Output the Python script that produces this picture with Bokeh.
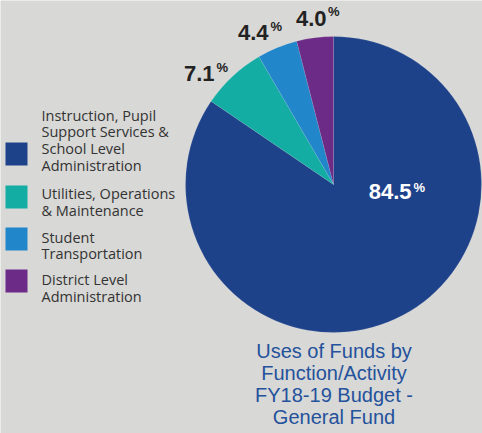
import math
from bokeh.plotting import figure
from bokeh.models import Range1d, ColumnDataSource
from bokeh.embed import file_html
from bokeh.resources import INLINE
from bokeh.core.properties import value

# ---- data ----
categories = [
    "Instruction, Pupil\nSupport Services &\nSchool Level\nAdministration",
    "Utilities, Operations\n& Maintenance",
    "Student\nTransportation",
    "District Level\nAdministration",
]
values = [84.5, 7.1, 4.4, 4.0]
value_labels = ["84.5", "7.1", "4.4", "4.0"]
colors = ["#1e428a", "#14ada3", "#2286cb", "#6b2b86"]
title_lines = ["Uses of Funds by", "Function/Activity", "FY18-19 Budget -", "General Fund"]

# ---- layout (pixel coords of the 482x433 picture) ----
W, H = 482, 433
BG = "#d8d8d6"
TXT_SHIFT = 6  # svg text baseline correction (px, upwards)


def X(px):
    return px


def Y(py):
    return H - py


def TY(py):
    return H - py + TXT_SHIFT


p = figure(width=W, height=H, output_backend="svg", toolbar_location=None,
           x_range=Range1d(0, W), y_range=Range1d(0, H), min_border=0)
p.axis.visible = False
p.grid.visible = False
p.outline_line_color = None
p.background_fill_color = BG
p.border_fill_color = BG

# pie: slices run counter-clockwise from 12 o'clock, last category first
n = len(values)
total = float(sum(values))
starts = [0.0] * n
ends = [0.0] * n
a = math.pi / 2
for i in reversed(range(n)):
    span = values[i] / total * 2 * math.pi
    starts[i] = a
    ends[i] = a + span
    a += span

cx, cy, R = X(333), Y(184), 148
src = ColumnDataSource(dict(start=starts, end=ends, color=colors))
p.wedge(x=cx, y=cy, radius=R, start_angle="start", end_angle="end",
        fill_color="color", line_color="white", line_alpha=0.2, line_width=0.5,
        source=src)

# value labels
num_anchor = [(411, 197), (214, 79), (268, 38), (326, 23.5)]
pct_anchor = [(413, 193), (216, 72.5), (270, 31.5), (327.5, 16.5)]
label_colors = ["white", "#222222", "#222222", "#222222"]
p.text(x=[X(a[0]) for a in num_anchor], y=[TY(a[1]) for a in num_anchor],
       text=value_labels, text_align="right", text_baseline="alphabetic",
       text_font=value("Liberation Sans"), text_font_style="bold",
       text_font_size="22px", text_color=label_colors)
p.text(x=[X(a[0]) for a in pct_anchor], y=[TY(a[1]) for a in pct_anchor],
       text=["%"] * n, text_align="left", text_baseline="alphabetic",
       text_font=value("Liberation Sans"), text_font_style="bold",
       text_font_size="13px", text_color=label_colors)

# legend swatches
sw_cy = [153.5, 196.5, 238.5, 280.5]
p.quad(left=[X(5)] * n, right=[X(27)] * n,
       top=[Y(c - 11.5) for c in sw_cy], bottom=[Y(c + 11.5) for c in sw_cy],
       fill_color=colors, line_color=None)

# legend texts
first_base = [120.5, 199, 242.5, 285]
lh = 16.8
lx, ly, lt = [], [], []
for i, cat in enumerate(categories):
    for j, line in enumerate(cat.split("\n")):
        lx.append(X(41))
        ly.append(TY(first_base[i] + j * lh))
        lt.append(line)
p.text(x=lx, y=ly, text=lt, text_align="left", text_baseline="alphabetic",
       text_font=value("Open Sans"), text_font_size="14.5px", text_color="#333333")

# title under the pie
tb = 356
tlh = 22.3
p.text(x=[X(333.5)] * len(title_lines), y=[TY(tb + k * tlh) for k in range(len(title_lines))],
       text=title_lines, text_align="center", text_baseline="alphabetic",
       text_font=value("Liberation Sans"), text_font_size="20px", text_color="#24529c")

open("out.html", "w").write(file_html(p, INLINE))
